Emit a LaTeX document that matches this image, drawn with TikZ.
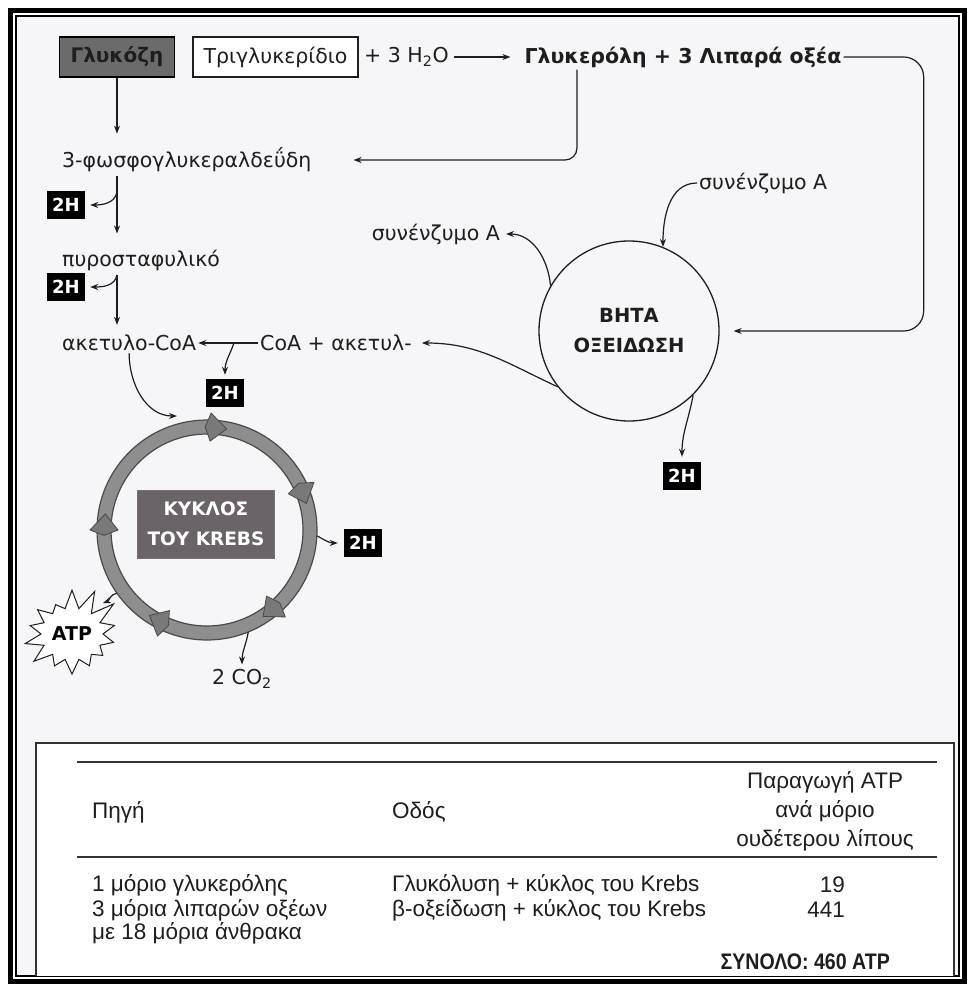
\documentclass[tikz,border=0pt]{standalone}
\usepackage{fontspec}
\setmainfont{DejaVu Sans}
\newfontfamily\tabfont{Liberation Sans}
\newfontfamily\totfont[FakeStretch=0.87]{Liberation Sans}
\usetikzlibrary{arrows.meta,positioning,calc,shapes.symbols}
\definecolor{paper}{HTML}{F6F6F8}
\definecolor{ink}{HTML}{1E1E1E}
\definecolor{glcfill}{HTML}{6B6B6B}
\definecolor{ringfill}{HTML}{8E8E8E}
\definecolor{ringline}{HTML}{4A4A4A}
\definecolor{krebsfill}{HTML}{6A6468}
\tikzset{
  lbl/.style={font=\fontsize{20.5}{22}\selectfont, text=ink, inner sep=2pt},
  toplbl/.style={lbl, font=\fontsize{20.5}{22}\selectfont\bfseries},
  glcbox/.style={lbl, font=\fontsize{20}{22}\selectfont\bfseries, fill=glcfill, draw=black, line width=1.2pt,
               minimum width=115pt, minimum height=40pt},
  tgbox/.style={lbl, draw=ink, fill=white, line width=1.2pt, minimum width=165pt, minimum height=40pt},
  hbox/.style={fill=black, text=white, font=\fontsize{18}{18}\selectfont\bfseries,
               minimum width=38pt, minimum height=28pt, inner sep=0pt},
  flow/.style={-{Stealth[length=8pt,width=6pt]}, line width=1.2pt, draw=ink},
  betacirc/.style={circle, draw=ink, line width=1.3pt, minimum size=180pt, align=center,
               font=\fontsize{19.5}{30}\selectfont\bfseries, text=ink},
  krebsbox/.style={fill=krebsfill, draw=black!55, text=white, align=center, inner sep=2pt,
               font=\fontsize{18.5}{30}\selectfont\bfseries, minimum width=137pt, minimum height=68pt},
  chevron/.style={fill=ringfill!85!black, draw=ringline, line width=0.8pt},
  tabtxt/.style={font=\tabfont\fontsize{22.5}{24}\selectfont, text=ink, inner sep=0pt},
  tabrule/.style={line width=1.8pt, draw=black!80},
}
\def\xL{117}

\begin{document}
\begin{tikzpicture}[x=1pt,y=1pt]
  \useasboundingbox (0,0) rectangle (969,-987);
  % frame
  \fill[white] (0,0) rectangle (969,-987);
  \fill[paper] (16,-16) rectangle (959,-976);
  \draw[line width=5pt] (10.5,-11) rectangle (964,-981);
  \draw[line width=1.8pt] (16,-16) rectangle (959,-976);

  % top row
  \node[glcbox] (glc) at (\xL,-57) {Γλυκόζη};
  \node[tgbox] (tg) at (275.5,-57) {Τριγλυκερίδιο};
  \node[lbl, anchor=west] (h2o) at (362,-57) {+ 3 H\textsubscript{2}O};
  \node[toplbl] (gfa) at (683,-57) {Γλυκερόλη + 3 Λιπαρά οξέα};
  \draw[flow] ([xshift=3pt]h2o.east) -- ([xshift=-12pt]gfa.west);

  % left column
  \node[lbl, anchor=west] (pgal) at (60,-160) {3-φωσφογλυκεραλδεΰδη};
  \node[lbl, anchor=west] (pyr) at (60,-260) {πυροσταφυλικό};
  \node[lbl, anchor=west] (acoa) at (60,-343) {ακετυλο-CoA};
  \node[lbl, anchor=west] (coaa) at (258,-343) {CoA + ακετυλ-};
  \node[hbox] (h1) at (66,-205) {2H};
  \node[hbox] (h2) at (66,-287) {2H};
  \node[hbox] (h3) at (225,-393) {2H};
  \coordinate (b1) at (\xL,-192);
  \coordinate (b2) at (\xL,-275);
  \coordinate (b3) at (234,-343);

  \draw[flow] (glc) -- ([yshift=12pt]glc |- pgal.north);
  \draw[flow] ([yshift=-2pt]glc |- pgal.south) -- ([yshift=14pt]glc |- pyr.north);
  \draw[flow] ([yshift=-2pt]glc |- pyr.south) -- ([yshift=8pt]glc |- acoa.north);
  \draw[flow] (b1) to[out=-100,in=0] ([xshift=5pt]h1.east);
  \draw[flow] (b2) to[out=-100,in=0] ([xshift=5pt]h2.east);
  \draw[flow] (coaa.west) -- (acoa.east);
  \draw[flow] (b3) to[out=-110,in=90] ([yshift=4pt]h3.north);

  % beta oxidation
  \node[betacirc] (beta) at (629,-331) {ΒΗΤΑ\\ΟΞΕΙΔΩΣΗ};
  \node[lbl, anchor=west] (coA1) at (697,-183) {συνένζυμο A};
  \node[lbl, anchor=east] (coA2) at (502,-234) {συνένζυμο A};
  \node[hbox] (hB) at (682,-476) {2H};
  \draw[flow, rounded corners=12pt] ([xshift=-106pt]gfa.south) |- ([xshift=40pt]pgal.east);
  \draw[flow, rounded corners=20pt] (gfa.east) -| ([xshift=204pt]beta.east) -- ([xshift=14pt]beta.east);
  \draw[flow] (coA1.west) to[out=180,in=90] (beta.68);
  \draw[flow] (beta.150) to[out=95,in=0] ([xshift=4pt]coA2.east);
  \draw[flow] (beta.-45) to[out=-100,in=90] ([yshift=5pt]hB.north);
  \draw[flow] (beta.218) to[out=155,in=0] ([xshift=8pt]coaa.east);

  % Krebs cycle
  \node[circle, minimum size=220pt, inner sep=0pt] (kring) at (207,-530) {};
  \fill[ringfill, draw=ringline, line width=1.2pt, even odd rule]
    (kring.center) circle (110pt) (kring.center) circle (96pt);
  \foreach \a in {88,24,-48,-115,180}
    \filldraw[chevron, shift={(kring.center)}] (\a:89pt) -- (\a-9:103pt) -- (\a:117pt) -- (\a+3:103pt) -- cycle;
  \node[krebsbox] (klbl) at (206,-524) {ΚΥΚΛΟΣ\\ΤΟΥ KREBS};
  \node[hbox] (h4) at (363,-543) {2H};
  \node[starburst, draw=ink, fill=white, line width=1pt, starburst points=14, starburst point height=26pt,
        random starburst=31, minimum width=114pt, minimum height=104pt, inner sep=0pt,
        font=\fontsize{19}{20}\selectfont\bfseries] (atp) at (72,-634) {ATP};
  \node[lbl] (co2) at (242,-679) {2 CO\textsubscript{2}};
  \coordinate (kin) at (177,-416);
  \coordinate (atpin) at (103,-603);
  \draw[flow] (acoa.south) to[out=-90,in=180] (kin);
  \draw[flow] (kring.-3) to[out=-30,in=180] ([xshift=-6pt]h4.west);
  \draw[flow] (kring.215) to[out=190,in=20] (atpin);
  \draw[flow] (kring.-68) to[out=-100,in=90] ([yshift=3pt]co2.north);

  % table
  \fill[white] (36,-743) rectangle (954,-976);
  \draw[tabrule] (36,-976) |- (954,-743) -- (954,-976);
  \draw[tabrule] (77,-762) -- (937,-762);
  \draw[tabrule] (77,-857) -- (937,-857);
  \node[tabtxt, anchor=west] (src) at (92,-812) {Πηγή};
  \node[tabtxt, anchor=west] (route) at (392,-812) {Οδός};
  \node[tabtxt, align=center, font=\tabfont\fontsize{22.5}{29}\selectfont] (yield) at (825,-811) {Παραγωγή ATP\\ανά μόριο\\ουδέτερου λίπους};
  \node[tabtxt, anchor=west] (srcA) at (92,-885) {1 μόριο γλυκερόλης};
  \node[tabtxt, anchor=west] (srcB) at (92,-910) {3 μόρια λιπαρών οξέων};
  \node[tabtxt, anchor=west] (srcC) at (92,-933) {με 18 μόρια άνθρακα};
  \node[tabtxt, anchor=west] (routeA) at (392,-885) {Γλυκόλυση + κύκλος του Krebs};
  \node[tabtxt, anchor=west] (routeB) at (392,-910) {β-οξείδωση + κύκλος του Krebs};
  \node[tabtxt, anchor=east] (nA) at (845,-885) {19};
  \node[tabtxt, anchor=east] (nB) at (845,-910) {441};
  \node[tabtxt, anchor=east, font=\totfont\fontsize{22.5}{24}\selectfont\bfseries] (total) at (890,-962) {ΣΥΝΟΛΟ: 460 ATP};
\end{tikzpicture}
\end{document}
